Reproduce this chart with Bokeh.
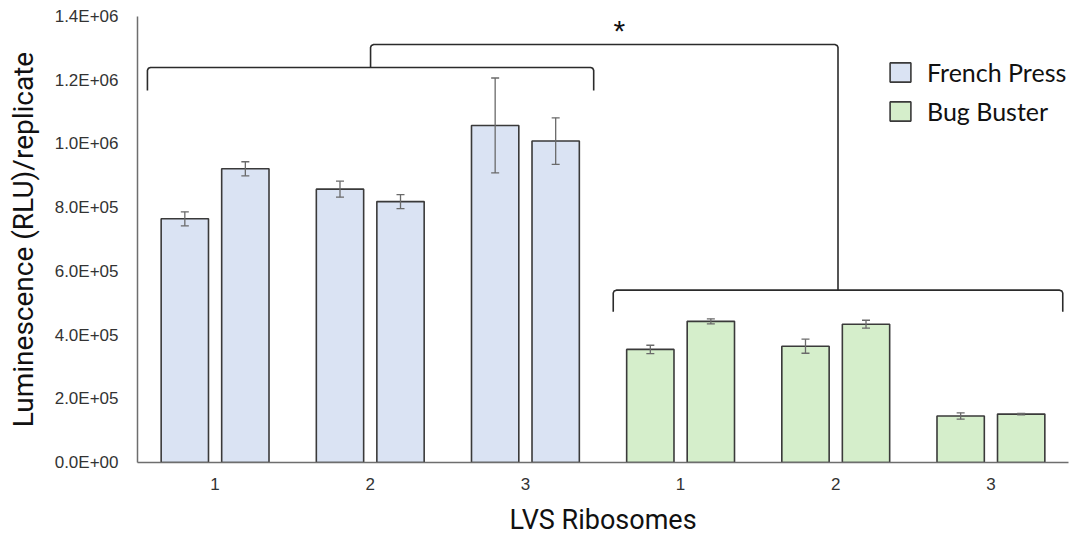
import numpy as np
from bokeh.plotting import figure
from bokeh.models import (ColumnDataSource, Whisker, TeeHead, FixedTicker,
                          Legend, LegendItem)
from bokeh.embed import file_html
from bokeh.resources import INLINE
from bokeh.core.properties import value

# ---- data ----
categories = ["1", "2", "3", "1", "2", "3"]
methods = ["French Press", "French Press", "French Press",
           "Bug Buster", "Bug Buster", "Bug Buster"]
rep1 = [765000, 858000, 1058000, 355000, 365000, 146000]
rep2 = [922000, 819000, 1009000, 443000, 434000, 152000]
rep1_err = [22000, 25000, 149000, 13000, 22000, 10000]
rep2_err = [22000, 22000, 73000, 8000, 12500, 2500]
y_ticks = [0, 200000, 400000, 600000, 800000, 1000000, 1200000, 1400000]
y_tick_labels = ["0.0E+00", "2.0E+05", "4.0E+05", "6.0E+05", "8.0E+05",
                 "1.0E+06", "1.2E+06", "1.4E+06"]
method_colors = {"French Press": "#dae3f3", "Bug Buster": "#d5eecb"}

# ---- layout constants ----
BAR_W = 0.305
OFFSET = 0.195
EDGE = "#3a3a3a"
ERR = "#6a6a6a"
AXIS_C = "#6e6e6e"

x = np.arange(len(categories)) + 0.5

p = figure(width=1077, height=540, x_range=(0, 6), y_range=(0, 1400000),
           output_backend="svg", toolbar_location=None,
           min_border_left=137, min_border_right=9, min_border_top=16,
           min_border_bottom=78)
p.outline_line_color = None
p.xgrid.visible = False
p.ygrid.visible = False
p.background_fill_color = "white"

legend_renderers = {}
for m in ["French Press", "Bug Buster"]:
    idx = [i for i, mm in enumerate(methods) if mm == m]
    src = ColumnDataSource(dict(
        x1=x[idx] - OFFSET, x2=x[idx] + OFFSET,
        y1=[rep1[i] for i in idx], y2=[rep2[i] for i in idx],
        lo1=[rep1[i] - rep1_err[i] for i in idx], hi1=[rep1[i] + rep1_err[i] for i in idx],
        lo2=[rep2[i] - rep2_err[i] for i in idx], hi2=[rep2[i] + rep2_err[i] for i in idx],
    ))
    r1 = p.vbar(x="x1", top="y1", width=BAR_W, source=src, fill_color=method_colors[m],
                line_color=EDGE, line_width=1.6)
    p.vbar(x="x2", top="y2", width=BAR_W, source=src, fill_color=method_colors[m],
           line_color=EDGE, line_width=1.6)
    for b, lo, hi in [("x1", "lo1", "hi1"), ("x2", "lo2", "hi2")]:
        w = Whisker(base=b, lower=lo, upper=hi, source=src, line_color=ERR, line_width=1.3,
                    level="overlay",
                    upper_head=TeeHead(size=8, line_color=ERR, line_width=1.3),
                    lower_head=TeeHead(size=8, line_color=ERR, line_width=1.3))
        p.add_layout(w)
    legend_renderers[m] = r1


def bracket(x0, x1, y_top, y_end, rx=0.02, ry=9000):
    xs = [x0, x0, x0 + rx * 0.3, x0 + rx, x1 - rx, x1 - rx * 0.3, x1, x1]
    ys = [y_end, y_top - ry, y_top - ry * 0.3, y_top, y_top, y_top - ry * 0.3, y_top - ry, y_end]
    return xs, ys

# French Press bracket
fx0, fx1, fy, fye = 0.064, 2.94, 1240000, 1168000
xs, ys = bracket(fx0, fx1, fy, fye)
p.line(xs, ys, line_color="#2b2b2b", line_width=1.6)
# Bug Buster bracket
bx0, bx1, by, bye = 3.066, 5.963, 541000, 473000
xs, ys = bracket(bx0, bx1, by, bye)
p.line(xs, ys, line_color="#2b2b2b", line_width=1.6)
# connecting bracket
cx0, cx1, cy = (fx0 + fx1) / 2, (bx0 + bx1) / 2, 1312000
xs, ys = bracket(cx0, cx1, cy, fy)
ys[-1] = by
p.line(xs, ys, line_color="#2b2b2b", line_width=1.6)
p.text(x=[3.106], y=[1355000], text=["*"], text_align="center", text_baseline="middle",
       text_font=value("Liberation Sans"), text_font_size="30px", text_color="#111111")

# axes
p.yaxis.ticker = FixedTicker(ticks=y_ticks)
p.yaxis.major_label_overrides = {t: l for t, l in zip(y_ticks, y_tick_labels)}
p.xaxis.ticker = FixedTicker(ticks=list(x))
p.xaxis.major_label_overrides = {float(t): c for t, c in zip(x, categories)}
for ax in (p.xaxis, p.yaxis):
    ax.major_tick_line_color = None
    ax.minor_tick_line_color = None
    ax.major_tick_out = 0
    ax.major_tick_in = 0
    ax.axis_line_color = AXIS_C
    ax.axis_line_width = 1.5
    ax.major_label_text_font = "Liberation Sans"
    ax.major_label_text_font_size = "17px"
    ax.major_label_text_color = "#333333"
    ax.axis_label_text_font = "Roboto"
    ax.axis_label_text_font_style = "normal"
    ax.axis_label_text_color = "#111111"
p.yaxis.major_label_standoff = 19
p.xaxis.major_label_standoff = 15
p.yaxis.axis_label = "Luminescence (RLU)/replicate"
p.yaxis.axis_label_text_font_size = "28px"
p.yaxis.axis_label_standoff = 12
p.xaxis.axis_label = "LVS Ribosomes"
p.xaxis.axis_label_text_font_size = "27px"
p.xaxis.axis_label_standoff = 11

legend = Legend(items=[LegendItem(label="French Press", renderers=[legend_renderers["French Press"]]),
                       LegendItem(label="Bug Buster", renderers=[legend_renderers["Bug Buster"]])],
                location=(750, 336), glyph_width=26, glyph_height=24,
                label_text_font="Lato", label_text_font_size="25px",
                label_text_color="#111111", label_standoff=14, spacing=9,
                padding=0, margin=0, border_line_color=None, background_fill_alpha=0)
p.add_layout(legend)

open("out.html", "w").write(file_html(p, INLINE))
